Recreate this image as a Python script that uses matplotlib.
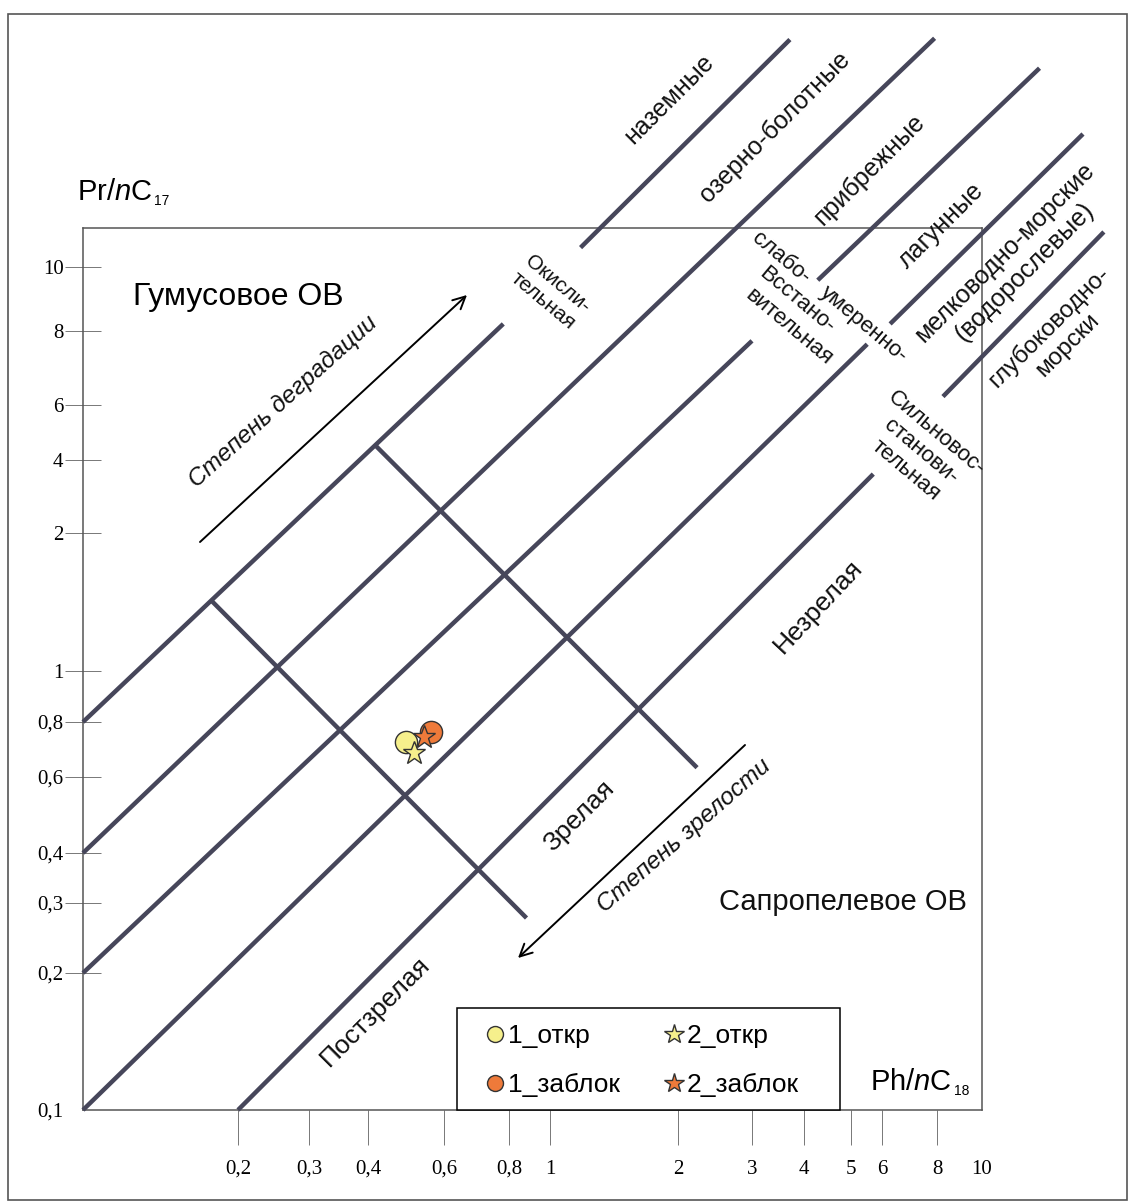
import numpy as np
import matplotlib
matplotlib.use("Agg")
import matplotlib.pyplot as plt
from matplotlib.patches import Rectangle
from matplotlib.ticker import NullLocator

plt.rcParams["font.family"] = ["Liberation Sans", "DejaVu Sans"]
plt.rcParams["mathtext.fontset"] = "custom"
plt.rcParams["mathtext.rm"] = "Liberation Sans"
plt.rcParams["mathtext.it"] = "Liberation Sans:italic"

W, H = 1132, 1201

# --- образцы ---
SAMPLES = ["1_откр", "1_заблок", "2_откр", "2_заблок"]
PH_NC18 = [0.49, 0.56, 0.51, 0.54]
PR_NC17 = [0.72, 0.76, 0.68, 0.74]

# --- границы полей диаграммы (Ph/nC18, Pr/nC17), начало -> конец ---
BND_PH0 = [0.1, 0.1, 0.1, 0.1, 0.2, 1.18, 4.27, 6.26, 8.24, 0.178, 0.415]
BND_PR0 = [0.8, 0.4, 0.2, 0.1, 0.1, 10.7, 9.55, 8.2, 6.2, 1.42, 4.47]
BND_PH1 = [0.78, 7.9, 3.0, 5.5, 5.7, 3.7, 13.3, 16.5, 18.3, 0.88, 2.22]
BND_PR1 = [8.2, 22.2, 7.7, 7.6, 3.5, 22.1, 20.0, 15.9, 11.3, 0.275, 0.63]

X_TICKS = [0.2, 0.3, 0.4, 0.6, 0.8, 1, 2, 3, 4, 5, 6, 8, 10]
X_TICK_LABELS = ["0,2", "0,3", "0,4", "0,6", "0,8", "1", "2", "3", "4", "5", "6", "8", "10"]
Y_TICKS = [0.1, 0.2, 0.3, 0.4, 0.6, 0.8, 1, 2, 4, 6, 8, 10]
Y_TICK_LABELS = ["0,1", "0,2", "0,3", "0,4", "0,6", "0,8", "1", "2", "4", "6", "8", "10"]

# шкалы бланка нарисованы от руки: привязка значений к положению (px от угла рамки)
X_CAL_VAL = [0.1] + X_TICKS
X_CAL_POS = [0, 155, 226, 285, 361, 426, 467, 595, 669, 721, 768, 799, 854, 899]
Y_CAL_VAL = Y_TICKS
Y_CAL_POS = [0, 137, 207, 257, 333, 388, 439, 577, 650, 705, 779, 843]

LINE_C = "#46465a"
FACES = ["#f6f08c", "#ee7a3a", "#f6f08c", "#ee7a3a"]
MARKERS = ["o", "o", "*", "*"]
SIZES = [16, 16, 17, 17]
LEG_SIZES = [11.5, 11.5, 15, 15]


def piecewise(xs, ys):
    xs = np.asarray(xs, float)
    ys = np.asarray(ys, float)
    k0 = (ys[1] - ys[0]) / (xs[1] - xs[0])
    k1 = (ys[-1] - ys[-2]) / (xs[-1] - xs[-2])

    def f(t):
        t = np.asarray(t, float)
        out = np.interp(t, xs, ys)
        out = np.where(t < xs[0], ys[0] + (t - xs[0]) * k0, out)
        out = np.where(t > xs[-1], ys[-1] + (t - xs[-1]) * k1, out)
        return out
    return f


def template_scale(vals, pos):
    lv = np.log10(vals)
    fwd_lin = piecewise(lv, pos)
    inv_lin = piecewise(pos, lv)

    def fwd(v):
        v = np.clip(np.asarray(v, float), 1e-6, None)
        return fwd_lin(np.log10(v))

    def inv(p):
        return 10 ** inv_lin(p)
    return fwd, inv


def fp(x, y):
    return x / W, 1 - y / H


def label(x, y, s, size, rot=0, style="normal"):
    fig.text(*fp(x, y), s, fontsize=size, rotation=rot, rotation_mode="anchor",
             ha="center", va="center", multialignment="center", style=style, color="#111")


def ratio_label(x, y, head, sub, y_sub, size=21, sub_size=10):
    # "Pr/nC" + мелкий нижний индекс
    t = fig.text(*fp(x, y), head, fontsize=size, ha="left", va="baseline")
    bb = t.get_window_extent(fig.canvas.get_renderer())
    fig.text((bb.x1 + 2) / W, 1 - y_sub / H, sub, fontsize=sub_size, ha="left", va="baseline")


fig = plt.figure(figsize=(W / 100, H / 100), dpi=100)
ax = fig.add_axes([83 / W, 1 - 1110 / H, 899 / W, 882 / H])

xf, xi = template_scale(X_CAL_VAL, X_CAL_POS)
yf, yi = template_scale(Y_CAL_VAL, Y_CAL_POS)
ax.set_xscale("function", functions=(xf, xi))
ax.set_yscale("function", functions=(yf, yi))
ax.set_xlim(0.1, 10)
ax.set_ylim(0.1, float(yi(882)))

ax.set_xticks(X_TICKS, X_TICK_LABELS)
ax.set_yticks(Y_TICKS, Y_TICK_LABELS)
ax.xaxis.set_minor_locator(NullLocator())
ax.yaxis.set_minor_locator(NullLocator())
ax.tick_params(axis="x", direction="out", length=25, width=0.7, color="#777", pad=11, labelsize=15)
ax.tick_params(axis="y", direction="inout", length=26, width=0.7, color="#777", pad=1, labelsize=15)
for lab in ax.get_xticklabels() + ax.get_yticklabels():
    lab.set_fontfamily("Liberation Serif")
ax.xaxis.get_major_ticks()[-1].tick1line.set_visible(False)
ax.yaxis.get_major_ticks()[0].tick1line.set_visible(False)
for s in ax.spines.values():
    s.set_color("#555")
    s.set_linewidth(1.1)

# линии полей
for p0, r0, p1, r1 in zip(BND_PH0, BND_PR0, BND_PH1, BND_PR1):
    ax.plot([p0, p1], [r0, r1], color=LINE_C, lw=3.2, solid_capstyle="butt",
            clip_on=False, zorder=3)

# точки образцов
for i in range(len(SAMPLES)):
    ax.plot(PH_NC18[i], PR_NC17[i], ls="none", marker=MARKERS[i], ms=SIZES[i],
            mfc=FACES[i], mec="#333", mew=1.0, label=SAMPLES[i], zorder=5)

# легенда: рамка отдельно, записи без рамки
ax.add_patch(Rectangle(fp(457, 1110), 383 / W, 102 / H, transform=fig.transFigure,
                       fc="white", ec="black", lw=1.1, clip_on=False, zorder=5.5))
leg = ax.legend(ncol=2, loc="upper left", bbox_to_anchor=fp(457, 1011),
                bbox_transform=fig.transFigure, fontsize=19, frameon=False,
                borderpad=0.5, labelspacing=0.95, handlelength=1.9, handletextpad=-0.45,
                columnspacing=1.06, borderaxespad=0)
for h, ms in zip(leg.legend_handles, LEG_SIZES):
    h.set_markersize(ms)
leg.set_zorder(6)

# подписи осей
ratio_label(77, 200, r"Pr/$\mathit{n}$C", "17", 205)
ratio_label(870, 1090, r"Ph/$\mathit{n}$C", "18", 1095)

# крупные подписи
fig.text(*fp(133, 297), "Гумусовое ОВ", fontsize=23, ha="left", va="center")
label(843, 902, "Сапропелевое ОВ", 21)

# стрелки
ax.annotate("", xy=fp(467, 295), xycoords="figure fraction", xytext=fp(200, 542),
            textcoords="figure fraction",
            arrowprops=dict(arrowstyle="->", color="black", lw=1.4, mutation_scale=22,
                            shrinkA=0, shrinkB=0))
ax.annotate("", xy=fp(518, 958), xycoords="figure fraction", xytext=fp(745, 745),
            textcoords="figure fraction",
            arrowprops=dict(arrowstyle="->", color="black", lw=1.4, mutation_scale=22,
                            shrinkA=0, shrinkB=0))
label(283, 402, "Степень деградации", 17.5, 42, "italic")
label(684, 836, "Степень зрелости", 17.5, 41, "italic")

# зрелость
label(818, 607, "Незрелая", 19, 47)
label(579, 816, "Зрелая", 19, 45)
label(375, 1012, "Постзрелая", 19, 45)

# окислительно-восстановительные условия
label(550, 292, "Окисли-\nтельная", 15, -40)
label(781, 258, "слабо-", 16, -40)
label(797, 300, "Всстано-", 16, -40)
label(789, 327, "вительная", 16, -40)
label(864, 324, "умеренно-", 16, -40)
label(921, 452, "Сильновос-\nстанови-\nтельная", 16, -40)

# фации
label(669, 99, "наземные", 18, 45)
label(775, 127, "озерно-болотные", 18, 45)
label(869, 170, "прибрежные", 18, 45)
label(941, 226, "лагунные", 18, 45)
label(1015, 262, "мелководно-морские\n(водорослевые)", 18, 45)
label(1058, 336, "глубоководно-\nморски", 17.5, 45)

fig.add_artist(Rectangle(fp(8, 1200), 1119 / W, 1186 / H, transform=fig.transFigure,
                         fill=False, ec="#555", lw=1.2))

fig.savefig("out.png", dpi=100)
